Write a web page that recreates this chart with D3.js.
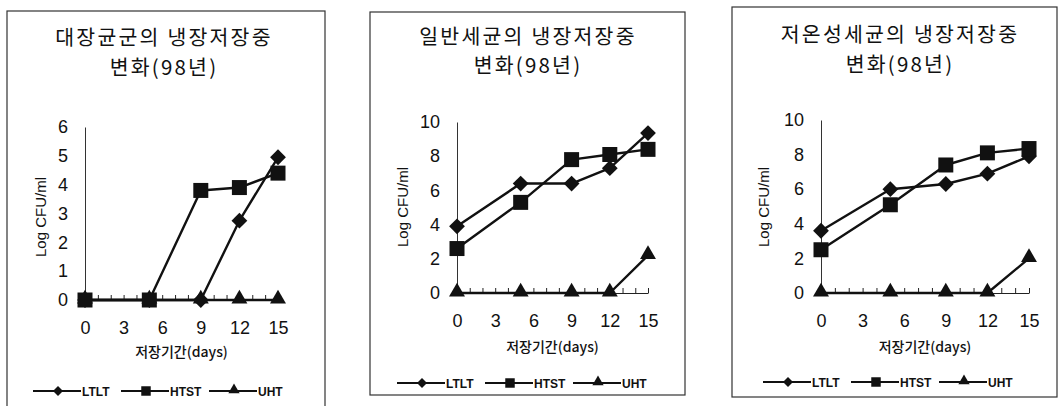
<!DOCTYPE html>
<html>
<head>
<meta charset="utf-8">
<script src="https://cdn.jsdelivr.net/npm/d3@7"></script>
<style>
  html, body { margin: 0; padding: 0; background: #fff; }
  svg { display: block; }
</style>
</head>
<body>
<div id="chart"></div>
<script>
// data
const days = [0, 5, 9, 12, 15];
const xTickLabels = [0, 3, 6, 9, 12, 15];
const seriesNames = ['LTLT', 'HTST', 'UHT'];

const titles = [
  ['대장균군의 냉장저장중', '변화(98년)'],
  ['일반세균의 냉장저장중', '변화(98년)'],
  ['저온성세균의 냉장저장중', '변화(98년)']
];
const yTicksColiform = [0, 1, 2, 3, 4, 5, 6];
const yTicksBacteria = [0, 2, 4, 6, 8, 10];

const coliformLTLT = [0, 0, 0, 2.75, 4.95];
const coliformHTST = [0, 0, 3.8, 3.9, 4.4];
const coliformUHT = [0, 0, 0, 0, 0];

const generalLTLT = [3.9, 6.4, 6.4, 7.3, 9.35];
const generalHTST = [2.6, 5.3, 7.8, 8.1, 8.4];
const generalUHT = [0, 0, 0, 0, 2.2];

const psychroLTLT = [3.6, 6.0, 6.3, 6.9, 7.9];
const psychroHTST = [2.5, 5.1, 7.4, 8.1, 8.35];
const psychroUHT = [0, 0, 0, 0, 2.0];

const W = 1059, H = 406;
const ink = '#111';
const numFont = '"Liberation Sans", Arial, sans-serif';
const korFont = '"Noto Sans CJK KR", "Noto Sans", sans-serif';

// layout of each panel (pixels)
const panels = [
  {
    title: titles[0], yTicks: yTicksColiform, yMax: 6,
    values: [coliformLTLT, coliformHTST, coliformUHT],
    box: [7, 11, 325, 412], xr: [85, 278], yr: [300, 127],
    titleX: 164, titleY: [45, 75], yLabelX: 40, yLabelY: 217,
    xTitleY: 357, legendX: 33, legendY: 391
  },
  {
    title: titles[1], yTicks: yTicksBacteria, yMax: 10,
    values: [generalLTLT, generalHTST, generalUHT],
    box: [370, 12, 685, 395], xr: [457, 648], yr: [293, 122],
    titleX: 528, titleY: [44, 73], yLabelX: 402, yLabelY: 207,
    xTitleY: 352, legendX: 397, legendY: 383
  },
  {
    title: titles[2], yTicks: yTicksBacteria, yMax: 10,
    values: [psychroLTLT, psychroHTST, psychroUHT],
    box: [732, 7, 1057, 397], xr: [821, 1029], yr: [293, 120],
    titleX: 900, titleY: [42, 72], yLabelX: 763, yLabelY: 207,
    xTitleY: 352, legendX: 763, legendY: 382
  }
];

const svg = d3.select('#chart').append('svg')
    .attr('width', W)
    .attr('height', H);

svg.append('rect').attr('width', W).attr('height', H).attr('fill', '#fff');

// marker paths: diamond is a square turned 45 degrees
const markerPath = (i, big) => {
  if (i === 0) return d3.symbol(d3.symbolSquare, big ? 125 : 50)();
  if (i === 1) return d3.symbol(d3.symbolSquare, big ? 225 : 90)();
  return d3.symbol(d3.symbolTriangle, big ? 110 : 55)();
};
const markerRotate = (i) => i === 0 ? 45 : 0;

const drawPanel = (p) => {
  const g = svg.append('g');

  // frame
  g.append('rect')
      .attr('x', p.box[0]).attr('y', p.box[1])
      .attr('width', p.box[2] - p.box[0])
      .attr('height', p.box[3] - p.box[1])
      .attr('fill', 'none')
      .attr('stroke', '#333')
      .attr('stroke-width', 1.2);

  // title, two lines
  g.selectAll('.title')
      .data(p.title)
      .enter()
      .append('text')
      .attr('class', 'title')
      .attr('x', p.titleX)
      .attr('y', (d, i) => p.titleY[i])
      .attr('text-anchor', 'middle')
      .attr('font-family', korFont)
      .attr('font-size', 20.5)
      .attr('letter-spacing', 2.2)
      .attr('fill', ink)
      .text((d) => d);

  const x = d3.scaleLinear().domain([0, 15]).range(p.xr);
  const y = d3.scaleLinear().domain([0, p.yMax]).range(p.yr);

  // y axis: plain line + numbers
  const yAxis = g.append('g')
      .attr('transform', `translate(${p.xr[0]},0)`)
      .call(d3.axisLeft(y).tickValues(p.yTicks).tickFormat(d3.format('d'))
          .tickSize(0).tickPadding(17));
  yAxis.select('.domain').attr('stroke', '#333').attr('stroke-width', 1);
  yAxis.selectAll('text')
      .attr('font-family', numFont)
      .attr('font-size', 18)
      .attr('fill', ink);

  // x axis: small upward ticks each day
  const xAxis = g.append('g')
      .attr('transform', `translate(0,${p.yr[0]})`)
      .call(d3.axisBottom(x).tickValues(d3.range(0, 16))
          .tickSizeInner(-5).tickSizeOuter(0).tickFormat(''));
  xAxis.select('.domain').attr('stroke', '#222').attr('stroke-width', 1.2);
  xAxis.selectAll('.tick line').attr('stroke', '#222').attr('stroke-width', 1);

  const xLabels = g.append('g')
      .attr('transform', `translate(0,${p.yr[0]})`)
      .call(d3.axisBottom(x).tickValues(xTickLabels).tickFormat(d3.format('d'))
          .tickSize(0).tickPadding(21));
  xLabels.select('.domain').remove();
  xLabels.selectAll('text')
      .attr('font-family', numFont)
      .attr('font-size', 18)
      .attr('fill', ink);

  // axis titles
  g.append('text')
      .attr('transform', `translate(${p.yLabelX},${p.yLabelY}) rotate(-90)`)
      .attr('text-anchor', 'middle')
      .attr('dominant-baseline', 'central')
      .attr('font-family', numFont)
      .attr('font-size', 15)
      .attr('fill', ink)
      .text('Log CFU/ml');

  g.append('text')
      .attr('x', (p.xr[0] + p.xr[1]) / 2)
      .attr('y', p.xTitleY)
      .attr('text-anchor', 'middle')
      .attr('font-family', korFont)
      .attr('font-size', 14)
      .attr('font-weight', 500)
      .attr('fill', ink)
      .text('저장기간(days)');

  // series: UHT underneath, HTST on top
  const line = d3.line()
      .x((d, i) => x(days[i]))
      .y((d) => y(d));
  [2, 0, 1].forEach((s) => {
    const vals = p.values[s];
    g.append('path')
        .attr('d', line(vals))
        .attr('fill', 'none')
        .attr('stroke', ink)
        .attr('stroke-width', 2.4)
        .attr('stroke-linejoin', 'round');
    g.selectAll(`.m${s}`)
        .data(vals)
        .enter()
        .append('path')
        .attr('class', `m${s}`)
        .attr('d', markerPath(s, true))
        .attr('transform', (d, i) =>
          `translate(${x(days[i])},${y(d) + (s === 2 ? -1 : 0)}) rotate(${markerRotate(s)})`)
        .attr('fill', ink);
  });

  // legend
  const lg = g.append('g')
      .attr('transform', `translate(${p.legendX},${p.legendY})`);
  const item = lg.selectAll('g')
      .data(seriesNames)
      .enter()
      .append('g')
      .attr('transform', (d, i) => `translate(${i * 88},0)`);
  item.append('line')
      .attr('x1', 0).attr('x2', 48)
      .attr('stroke', ink)
      .attr('stroke-width', 2.2);
  item.append('path')
      .attr('d', (d, i) => markerPath(i, false))
      .attr('transform', (d, i) => `translate(25,${i === 2 ? -1 : 0}) rotate(${markerRotate(i)})`)
      .attr('fill', ink);
  item.append('text')
      .attr('x', 49)
      .attr('y', 4.5)
      .attr('font-family', numFont)
      .attr('font-size', 12)
      .attr('font-weight', 'bold')
      .attr('fill', ink)
      .text((d) => d);
};

panels.forEach(drawPanel);
</script>
</body>
</html>
